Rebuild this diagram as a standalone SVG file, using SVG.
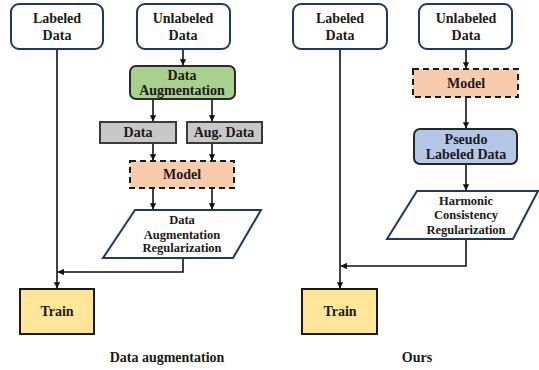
<svg xmlns="http://www.w3.org/2000/svg" width="539" height="370" viewBox="0 0 539 370">
  <style>
    .t { font-family: "Liberation Serif", "Times New Roman", serif; font-weight: bold; fill: #1a1a1a; text-anchor: middle; }
    .f14 { font-size: 14px; }
    .f13 { font-size: 12.5px; }
    .src { fill: #ffffff; stroke: #1f3864; stroke-width: 2; }
    .aug { fill: #a9d18e; stroke: #2b2b2b; stroke-width: 2; }
    .gray { fill: #c8c8c8; stroke: #3a3a3a; stroke-width: 2; }
    .model { fill: #f8cbad; stroke: #1a1a1a; stroke-width: 2; stroke-dasharray: 6 4; }
    .pseudo { fill: #b4c7e7; stroke: #262626; stroke-width: 2; }
    .reg { fill: #ffffff; stroke: #1f3864; stroke-width: 2; }
    .train { fill: #ffe699; stroke: #1a1a1a; stroke-width: 2; }
    .wire { fill: none; stroke: #111111; stroke-width: 1.6; }
  </style>
  <defs>
    <marker id="arrow" viewBox="0 0 6 6" refX="5.5" refY="3" markerWidth="4" markerHeight="4" markerUnits="strokeWidth" orient="auto">
      <path d="M0,0 L6,3 L0,6 Z" fill="#111111"/>
    </marker>
  </defs>

  <!-- connectors -->
  <g id="connectors">
    <!-- left panel -->
    <path class="wire" d="M57,49 V288" marker-end="url(#arrow)"/>
    <path class="wire" d="M183,49 V65" marker-end="url(#arrow)"/>
    <path class="wire" d="M153,99 V121" marker-end="url(#arrow)"/>
    <path class="wire" d="M212,99 V121" marker-end="url(#arrow)"/>
    <path class="wire" d="M153,143 V160" marker-end="url(#arrow)"/>
    <path class="wire" d="M212,143 V160" marker-end="url(#arrow)"/>
    <path class="wire" d="M153,188 V209" marker-end="url(#arrow)"/>
    <path class="wire" d="M212,188 V209" marker-end="url(#arrow)"/>
    <path class="wire" d="M183,258 V272 H58" marker-end="url(#arrow)"/>
    <!-- right panel -->
    <path class="wire" d="M340,49 V288" marker-end="url(#arrow)"/>
    <path class="wire" d="M466,49 V68" marker-end="url(#arrow)"/>
    <path class="wire" d="M466,97 V128" marker-end="url(#arrow)"/>
    <path class="wire" d="M466,164 V190" marker-end="url(#arrow)"/>
    <path class="wire" d="M466,239 V266 H341" marker-end="url(#arrow)"/>
  </g>

  <!-- left panel: data augmentation -->
  <g id="da-labeled">
    <rect class="src" x="11" y="4" width="92" height="45" rx="8"/>
    <text class="t f14" x="57" y="23">Labeled</text>
    <text class="t f14" x="57" y="40">Data</text>
  </g>
  <g id="da-unlabeled">
    <rect class="src" x="137" y="4" width="93" height="45" rx="8"/>
    <text class="t f14" x="183" y="23">Unlabeled</text>
    <text class="t f14" x="183" y="40">Data</text>
  </g>
  <g id="da-augmentation">
    <rect class="aug" x="130" y="66" width="105" height="33" rx="6"/>
    <text class="t f14" x="182" y="80">Data</text>
    <text class="t f14" x="182" y="95">Augmentation</text>
  </g>
  <g id="da-data">
    <rect class="gray" x="100" y="122" width="76" height="21"/>
    <text class="t f14" x="138" y="137">Data</text>
  </g>
  <g id="da-augdata">
    <rect class="gray" x="187" y="122" width="75" height="21"/>
    <text class="t f14" x="224" y="137">Aug. Data</text>
  </g>
  <g id="da-model">
    <rect class="model" x="130" y="161" width="104" height="27"/>
    <text class="t f14" x="182" y="179">Model</text>
  </g>
  <g id="da-regularization">
    <polygon class="reg" points="135,210 261,210 233,258 103,258"/>
    <text class="t f13" x="182" y="224">Data</text>
    <text class="t f13" x="182" y="239">Augmentation</text>
    <text class="t f13" x="182" y="252">Regularization</text>
  </g>
  <g id="da-train">
    <rect class="train" x="20" y="289" width="74" height="45"/>
    <text class="t f14" x="57" y="316">Train</text>
  </g>
  <text class="t f14" x="167" y="362">Data augmentation</text>

  <!-- right panel: ours -->
  <g id="ours-labeled">
    <rect class="src" x="293" y="4" width="94" height="45" rx="8"/>
    <text class="t f14" x="340" y="23">Labeled</text>
    <text class="t f14" x="340" y="40">Data</text>
  </g>
  <g id="ours-unlabeled">
    <rect class="src" x="419" y="4" width="93" height="45" rx="8"/>
    <text class="t f14" x="466" y="23">Unlabeled</text>
    <text class="t f14" x="466" y="40">Data</text>
  </g>
  <g id="ours-model">
    <rect class="model" x="413" y="69" width="105" height="28"/>
    <text class="t f14" x="466" y="88">Model</text>
  </g>
  <g id="ours-pseudo">
    <rect class="pseudo" x="414" y="129" width="103" height="35" rx="6"/>
    <text class="t f14" x="466" y="144">Pseudo</text>
    <text class="t f14" x="466" y="159">Labeled Data</text>
  </g>
  <g id="ours-regularization">
    <polygon class="reg" points="417,191 538,191 513,239 387,239"/>
    <text class="t f13" x="466" y="205">Harmonic</text>
    <text class="t f13" x="466" y="219">Consistency</text>
    <text class="t f13" x="466" y="234">Regularization</text>
  </g>
  <g id="ours-train">
    <rect class="train" x="302" y="289" width="75" height="45"/>
    <text class="t f14" x="340" y="316">Train</text>
  </g>
  <text class="t f14" x="417" y="362">Ours</text>
</svg>
